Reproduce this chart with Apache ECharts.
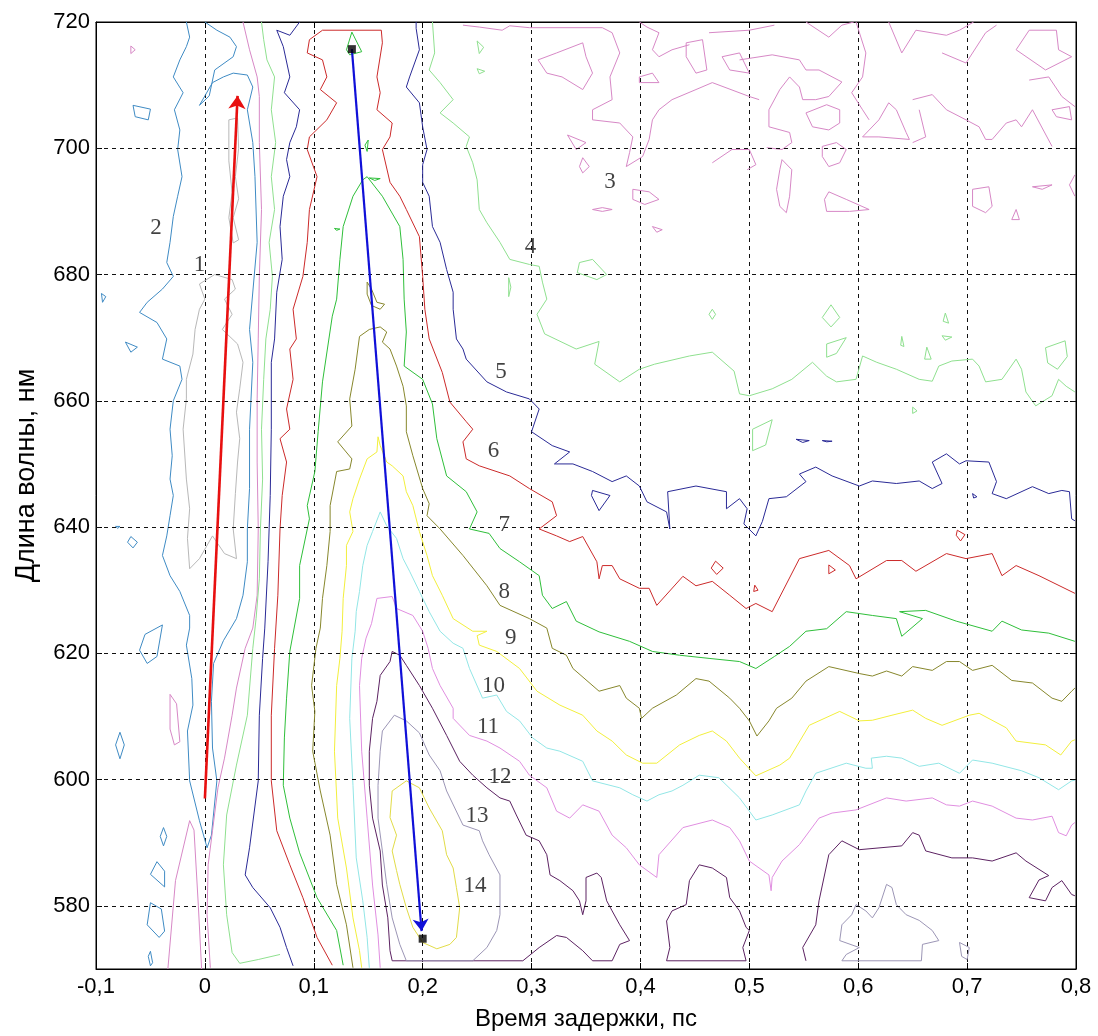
<!DOCTYPE html>
<html><head><meta charset="utf-8">
<script src="https://cdn.jsdelivr.net/npm/echarts/dist/echarts.min.js"></script>
<style>html,body{margin:0;padding:0;background:#fff}#c{width:1098px;height:1036px}</style>
</head><body><div id="c"></div>
<script>
// ---------- axes ----------
const xTicks = [-0.1,0,0.1,0.2,0.3,0.4,0.5,0.6,0.7,0.8];
const yTicks = [580,600,620,640,660,680,700,720];

// ---------- contour level 1 (gray) ----------
const lvl1Main = [[-0.005,678.5],[0.009,680],[0.025,679.2],[0.028,677.7],[0.018,676.1],[0.025,673.7],[0.016,671.3],[0.030,669],[0.035,666.1],[0.032,661.9],[0.029,658.2],[0.032,654],[0.030,650.3],[0.028,645.3],[0.026,639.7],[0.029,635],[0.018,635.8],[0.007,638.6],[-0.005,635],[-0.014,633.4],[-0.016,638.2],[-0.014,642.9],[-0.017,647.6],[-0.020,655.5],[-0.017,660.3],[-0.017,663.4],[-0.011,667.4],[-0.009,671.3],[-0.005,674.5],[0,676.1]];
const lvl1Strip = [[0.022,704.5],[0.030,704.8],[0.031,700],[0.028,695.5],[0.031,692],[0.026,689],[0.031,685.5],[0.026,685],[0.022,689],[0.025,693],[0.022,698]];

// ---------- level 2 (steel blue) ----------
const lvl2Main = [[-0.017,720],[-0.014,717.6],[-0.017,716.1],[-0.023,714],[-0.029,711.3],[-0.020,708.8],[-0.028,706.1],[-0.023,702.9],[-0.025,699.8],[-0.021,695.5],[-0.025,692.4],[-0.029,689.2],[-0.032,685.1],[-0.035,681.9],[-0.029,679.7],[-0.039,677.7],[-0.053,675.6],[-0.060,674.0],[-0.044,672.4],[-0.035,669.8],[-0.039,666.6],[-0.023,665.5],[-0.021,663.4],[-0.029,660],[-0.032,655.5],[-0.030,651.3],[-0.032,647.6],[-0.029,645],[-0.032,641.8],[-0.035,638.6],[-0.039,635.5],[-0.032,632.3],[-0.023,629.8],[-0.014,626],[-0.014,624],[-0.017,621.3],[-0.012,616],[-0.011,611.8],[-0.016,607.7],[-0.014,599.8],[-0.005,593.5],[0.002,589.2],[0.006,591.2],[0.011,599.8],[0.007,605],[0.006,612.4],[0.008,618.4],[0.017,622],[0.029,625.5],[0.035,629.2],[0.039,634.5],[0.039,639.7],[0.041,646.1],[0.041,655.5],[0.044,666.1],[0.041,671.3],[0.048,685.1],[0.046,695.5],[0.044,700.9],[0.039,706.1],[0.044,709.7],[0.039,711.6],[0.026,711.9],[0.017,711.3],[0.007,710.4],[-0.005,706.8],[0.004,708.3],[0.009,712.4],[0.026,714.5],[0.029,716.1],[0.023,717.6],[0.011,718.7],[0,720]];
const lvl2Islands = [
 [[-0.066,706.8],[-0.050,706.2],[-0.052,704.5],[-0.064,705]],
 [[-0.095,677],[-0.091,676.5],[-0.094,675.6]],
 [[-0.073,669.3],[-0.062,668.5],[-0.068,667.7]],
 [[-0.082,640.1],[-0.078,640.1],[-0.080,639.8]],
 [[-0.068,638.5],[-0.062,637.6],[-0.066,636.7],[-0.071,637.6]],
 [[-0.055,623],[-0.039,624.5],[-0.044,619.5],[-0.053,618.4],[-0.060,620.5]],
 [[-0.078,607.5],[-0.074,605.5],[-0.078,603.3],[-0.082,605.5]],
 [[-0.038,592.4],[-0.035,591],[-0.038,589.5],[-0.041,591]],
 [[-0.044,587],[-0.037,585.5],[-0.037,583],[-0.050,585]],
 [[-0.050,580.5],[-0.040,579.5],[-0.037,576],[-0.042,575],[-0.053,577]],
 [[-0.050,572.8],[-0.048,571],[-0.050,570.5],[-0.052,572]]
];

// ---------- level 3 (pink) ----------
const lvl3Left = [[0.035,720],[0.041,715.6],[0.048,711.3],[0.050,708.2],[0.050,700.9],[0.052,690.3],[0.050,679.7],[0.049,669.8],[0.048,660.3],[0.048,650.3],[0.049,639.7],[0.048,629.2],[0.044,624],[0.037,620.8],[0.029,614.5],[0.025,610.2],[0.018,603.4],[0.012,598.7],[0.007,591.9],[0.003,586.5],[0.002,578.6],[0.005,570.2]];
const lvl3Open = [
 [[0.237,719.5],[0.252,719.2],[0.273,718.7],[0.280,719.4],[0.298,719.1],[0.365,719.1],[0.374,718.3],[0.381,715.1],[0.372,711.3],[0.374,707.7],[0.356,706.1],[0.356,704.5],[0.381,704],[0.393,701.8],[0.390,699.3],[0.387,697.1],[0.402,698.7],[0.408,701.4],[0.411,704.5],[0.417,706.1],[0.429,707.7],[0.451,709.3],[0.466,710.4],[0.500,708.2],[0.509,707.7]],
 [[0.491,714],[0.521,714.8],[0.546,714],[0.552,712.4],[0.564,712.4],[0.585,710.5],[0.573,708.2],[0.561,707.7],[0.549,707.7],[0.546,709.7],[0.537,711.3],[0.528,709.3],[0.518,706.1],[0.518,703.4],[0.537,702.5],[0.539,700.9],[0.530,699.8],[0.516,700.1]],
 [[0.552,720],[0.573,717.6],[0.585,719.5],[0.596,720]],
 [[0.628,720],[0.640,715.1],[0.653,718.7],[0.681,717.9],[0.693,718.7],[0.706,720]],
 [[0.598,720],[0.607,715.1],[0.604,711.3],[0.594,708.8],[0.604,706.1],[0.610,704.5]],
 [[0.650,707.7],[0.668,708.5],[0.681,706.1],[0.699,704.5],[0.711,703.4],[0.717,701.4],[0.723,701.4],[0.736,704],[0.745,704.5],[0.750,703.4],[0.760,706.1],[0.778,700.3]],
 [[0.656,706.1],[0.662,701.8],[0.650,700.9]],
 [[0.677,715.1],[0.699,713.5],[0.717,718.3],[0.727,719.5]],
 [[0.757,710.8],[0.775,711.3],[0.787,708.2],[0.799,706.6]],
 [[0.799,695.8],[0.794,694.2],[0.799,692.4]],
 [[0.399,720],[0.406,719.2],[0.417,718.3],[0.411,715.6],[0.417,714.5],[0.429,715.6],[0.445,716.4]],
 [[0.463,718.3],[0.500,718.7],[0.523,719.5]],
 [[0.466,697.7],[0.484,699.8],[0.500,699.8],[0.506,697.4],[0.498,696.6]],
 [[-0.034,570],[-0.027,584],[-0.014,593.5],[-0.010,592],[-0.006,580],[-0.003,570]]
];
const lvl3Islands = [
 [[0.552,705.6],[0.571,706.9],[0.583,706.1],[0.583,704],[0.573,702.9],[0.558,703.4]],
 [[0.567,700.3],[0.580,700.9],[0.589,699.8],[0.583,697.7],[0.573,697.1],[0.567,698.7]],
 [[0.530,698.2],[0.539,696.6],[0.537,692.4],[0.534,689.8],[0.528,690.8],[0.525,693.5],[0.528,696.6]],
 [[0.573,693.1],[0.589,691.9],[0.610,690.3],[0.592,690],[0.571,690],[0.569,691.9]],
 [[0.604,701.8],[0.619,704.5],[0.628,707.2],[0.635,706.1],[0.644,702.5],[0.647,701.4],[0.619,701.8]],
 [[0.745,715.6],[0.757,718.7],[0.782,718.7],[0.784,715.6],[0.796,714.5],[0.772,712.4]],
 [[0.778,706.1],[0.794,706.6],[0.796,704.5],[0.782,705]],
 [[0.705,693.5],[0.720,693.9],[0.723,690.8],[0.717,689.8],[0.705,690.8]],
 [[0.741,688.7],[0.745,690.3],[0.748,688.7]],
 [[0.760,693.9],[0.778,694.2],[0.769,693.5]],
 [[0.306,714],[0.323,715.1],[0.347,716.7],[0.350,714.5],[0.356,711.9],[0.347,709.3],[0.328,711.3],[0.314,711.9]],
 [[0.333,702.1],[0.350,700.9],[0.341,699.8]],
 [[0.347,698.5],[0.353,697.1],[0.347,696.1],[0.344,697.1]],
 [[0.356,690.3],[0.365,690.6],[0.374,690.3],[0.365,690]],
 [[0.393,693.5],[0.408,693.1],[0.417,691.9],[0.404,691.1],[0.393,691.9]],
 [[0.411,687.6],[0.420,687.1],[0.415,686.7]],
 [[0.399,711.3],[0.411,711.9],[0.417,710.4],[0.399,710.4]],
 [[0.442,716.7],[0.457,717.2],[0.461,712.4],[0.451,711.9],[0.442,714.5]],
 [[0.475,714.5],[0.491,715.1],[0.500,711.9],[0.482,712.4]],
 [[-0.032,613.5],[-0.026,612],[-0.023,606],[-0.028,605.5],[-0.032,608]],
 [[-0.068,716.2],[-0.064,715.6],[-0.068,715]]
];

// ---------- level 4 (light green) ----------
const lvl4Left = [[0.052,720],[0.054,717.2],[0.057,714],[0.064,711.3],[0.061,706.1],[0.065,700.9],[0.061,695.5],[0.064,690.3],[0.059,685.1],[0.062,679.7],[0.060,674.5],[0.056,669.8],[0.054,663.4],[0.052,655.5],[0.053,647.6],[0.051,639.7],[0.050,631.8],[0.047,625.5],[0.044,620.8],[0.039,610.2],[0.029,602.3],[0.020,594.4],[0.017,586.5],[0.020,578.6],[0.025,572.6],[0.032,570.9],[0.049,571.5],[0.069,572.3]];
const lvl4Right = [[0.209,720],[0.211,715.1],[0.206,712.4],[0.216,710.4],[0.228,707.7],[0.216,705.6],[0.228,704],[0.243,701.8],[0.240,700.3],[0.246,697.7],[0.250,695],[0.252,690.3],[0.259,688.2],[0.271,685.1],[0.280,682.4],[0.298,681.6],[0.307,681.3],[0.310,678.8],[0.314,676.1],[0.305,673.7],[0.312,670.6],[0.341,668.2],[0.362,669.4],[0.358,665.8],[0.381,663],[0.399,665],[0.413,665.8],[0.445,667.1],[0.466,667.7],[0.486,664.7],[0.491,661.1],[0.500,660.8],[0.521,661.9],[0.539,663.4],[0.558,666.1],[0.571,663.9],[0.580,663],[0.598,663.4],[0.604,667.1],[0.617,666.1],[0.635,665],[0.656,663.4],[0.668,663.1],[0.674,665.5],[0.686,666.3],[0.705,666.6],[0.711,665.5],[0.717,663],[0.732,663.4],[0.745,666.6],[0.750,665],[0.754,661.4],[0.763,659.2],[0.778,660.8],[0.784,663.4],[0.791,662.3],[0.799,661.4]];
const lvl4Islands = [
 [[0.344,681.9],[0.356,682.4],[0.369,680],[0.360,679.2],[0.342,680.3]],
 [[0.279,679.5],[0.281,678],[0.279,676.5]],
 [[0.571,669],[0.589,670],[0.580,667.5],[0.571,666.9]],
 [[0.772,668.4],[0.790,669.5],[0.792,667],[0.783,665],[0.774,666]],
 [[0.663,668.5],[0.667,666.6],[0.661,666.6]],
 [[0.640,670.2],[0.642,668.6],[0.639,668.8]],
 [[0.503,655.5],[0.521,657],[0.515,653],[0.503,652.1]],
 [[0.650,659],[0.654,658.4],[0.650,658]],
 [[0.575,675.2],[0.583,673.2],[0.575,671.7],[0.567,673.2]],
 [[0.680,673.9],[0.683,672.3],[0.678,672.6]],
 [[0.677,670.3],[0.686,670.1],[0.680,669.6]],
 [[0.466,674.5],[0.469,673.7],[0.466,672.9],[0.463,673.7]],
 [[0.250,717],[0.256,716],[0.252,715]],
 [[0.250,712.6],[0.257,712.2],[0.252,711.8]]
];

// ---------- level 5 (navy) ----------
const lvl5Left = [[0.087,720],[0.078,717.9],[0.066,718.7],[0.072,716.1],[0.078,711.3],[0.073,708.8],[0.087,706.1],[0.084,703.4],[0.078,700.9],[0.075,698.2],[0.078,695.5],[0.072,692.4],[0.069,687.6],[0.071,682.4],[0.066,677.2],[0.064,669.8],[0.061,666.1],[0.061,655.5],[0.060,645],[0.058,634.5],[0.055,624],[0.053,619.2],[0.050,610.2],[0.049,599.8],[0.041,589.2],[0.037,584.9],[0.044,582.9],[0.060,579.7],[0.069,576.6],[0.075,573.4],[0.081,570.5]];
const lvl5Right = [[0.194,720],[0.194,719],[0.197,715.6],[0.188,711.3],[0.185,709.7],[0.197,707.2],[0.200,703.4],[0.204,699.8],[0.200,697.4],[0.200,694.6],[0.206,692.4],[0.209,687.6],[0.216,685.1],[0.222,680.8],[0.228,677.2],[0.228,674.5],[0.231,669.8],[0.237,668.2],[0.240,666.6],[0.259,663],[0.277,661.4],[0.298,660.3],[0.307,658.7],[0.300,655.1],[0.319,652.9],[0.335,651.9],[0.321,650],[0.338,650],[0.356,648.8],[0.374,647.2],[0.387,648.1],[0.399,646.5],[0.406,644],[0.424,642.4],[0.427,639.7],[0.425,645.6],[0.451,646.5],[0.479,645.6],[0.479,642.9],[0.491,644.5],[0.498,642.9],[0.495,640.5],[0.506,638.6],[0.512,640.9],[0.518,644.5],[0.534,644.8],[0.552,647.2],[0.546,648.4],[0.561,649.5],[0.576,648.1],[0.601,646.5],[0.613,647.3],[0.635,646.9],[0.656,647.3],[0.668,646.1],[0.677,646.9],[0.668,650.3],[0.681,651.6],[0.693,650],[0.699,650.5],[0.720,650.3],[0.727,647.2],[0.723,645.3],[0.736,644.5],[0.760,646.4],[0.775,645.3],[0.787,645.8],[0.794,645.6],[0.796,641.3],[0.799,641]];
const lvl5Islands = [
 [[0.356,645.8],[0.372,645],[0.362,642.6],[0.355,645]],
 [[0.543,653.9],[0.555,653.7],[0.549,653.4]],
 [[0.567,653.7],[0.576,653.6],[0.571,653.5]],
 [[0.705,645.3],[0.709,644.8],[0.706,644.6]]
];

// ---------- level 6 (red) ----------
const lvl6Main = [[0.117,570.6],[0.103,575],[0.090,581.3],[0.078,586.5],[0.066,591.9],[0.061,599.8],[0.061,610.2],[0.064,620.8],[0.067,629.2],[0.069,639.7],[0.071,645],[0.075,650.3],[0.069,654],[0.078,655.5],[0.075,658.7],[0.081,663.4],[0.078,668.2],[0.084,669.8],[0.081,674.5],[0.090,679.7],[0.094,685.1],[0.096,690.3],[0.103,695.5],[0.094,699.8],[0.096,701.8],[0.112,704.5],[0.121,707.2],[0.106,709.3],[0.112,711.3],[0.108,714],[0.094,715.1],[0.096,717.2],[0.108,718.7],[0.162,718.7],[0.163,716.7],[0.158,711.3],[0.161,708.8],[0.158,706.1],[0.172,704],[0.170,701.8],[0.163,699.8],[0.170,694.6],[0.179,692.4],[0.185,690.3],[0.197,686],[0.200,679.7],[0.202,674.5],[0.206,669.8],[0.218,664.5],[0.225,659.8],[0.240,656.7],[0.246,655.5],[0.237,653.5],[0.240,650.8],[0.252,649.7],[0.280,648.1],[0.298,646.1],[0.319,644],[0.323,641.8],[0.307,639.7],[0.323,638.6],[0.335,637.7],[0.347,638.5],[0.360,634.5],[0.362,631.8],[0.365,633.9],[0.374,633.9],[0.381,631.8],[0.399,630.3],[0.408,630.3],[0.415,627.6],[0.439,632.2],[0.451,630.7],[0.466,631.4],[0.482,629.2],[0.497,627.1],[0.506,627.9],[0.521,626.6],[0.546,635],[0.573,636.3],[0.592,633.9],[0.598,631.8],[0.626,634.7],[0.640,634.7],[0.653,633],[0.681,635.8],[0.699,635],[0.723,635.8],[0.732,632.3],[0.745,633.9],[0.766,632.3],[0.799,629.5]];
const lvl6Islands = [
 [[0.469,634.6],[0.476,633.5],[0.470,632.5],[0.465,633.5]],
 [[0.573,634],[0.579,633.2],[0.573,632.6]],
 [[0.505,630.8],[0.508,630],[0.504,629.8]],
 [[0.691,639.5],[0.698,638.8],[0.694,637.8],[0.690,638.7]]
];

// ---------- level 7 (green) ----------
const lvl7Main = [[0.127,570.6],[0.121,576.1],[0.103,581.3],[0.087,588.4],[0.078,593.9],[0.072,599.1],[0.073,606.6],[0.075,612.9],[0.078,620.3],[0.087,628.7],[0.087,633.9],[0.096,641.3],[0.094,643.4],[0.101,648.8],[0.104,655.1],[0.108,663],[0.117,673.4],[0.121,676.1],[0.124,682.4],[0.127,687.6],[0.136,692.4],[0.145,695],[0.149,695.5],[0.163,692.4],[0.179,687.6],[0.182,682.4],[0.183,676.1],[0.185,670.9],[0.183,665.5],[0.200,663.4],[0.209,659.5],[0.213,654],[0.222,648.1],[0.240,645.6],[0.250,642.4],[0.243,639.7],[0.261,639],[0.271,636.6],[0.289,634.5],[0.307,632.3],[0.310,629.2],[0.319,627.1],[0.332,628.2],[0.341,625.1],[0.362,623.4],[0.390,621.9],[0.411,620.3],[0.436,619.7],[0.463,619.2],[0.491,618.7],[0.506,617.6],[0.523,619.5],[0.537,621.1],[0.552,623.5],[0.571,623.9],[0.589,626.6],[0.613,626],[0.635,625.5],[0.640,622.7],[0.659,625.5],[0.638,626.6],[0.662,626.8],[0.690,625.1],[0.723,623.5],[0.732,625.1],[0.750,623.7],[0.775,623.2],[0.799,621.9]];
const lvl7Islands = [
 [[0.135,718.4],[0.144,715.3],[0.133,714.8],[0.130,715.6]],
 [[0.147,700.5],[0.150,701.3],[0.149,699.5]],
 [[0.151,695.3],[0.161,695.2],[0.156,694.9]],
 [[0.119,687.3],[0.124,687.2],[0.121,687]]
];

// ---------- level 8 (olive) ----------
const lvl8Main = [[0.136,570.2],[0.130,577],[0.121,583.4],[0.115,591.2],[0.106,598.2],[0.099,604.5],[0.101,610.8],[0.098,614.9],[0.102,620.8],[0.106,624],[0.108,628.7],[0.112,633.9],[0.115,639.3],[0.115,643.4],[0.121,648.8],[0.133,649.2],[0.135,650.8],[0.122,653.5],[0.135,656],[0.133,660.3],[0.138,665],[0.142,670.2],[0.151,671.3],[0.161,671.7],[0.167,670.9],[0.163,669.3],[0.170,668.2],[0.176,665.5],[0.182,662.3],[0.185,659.2],[0.185,655.1],[0.191,651.3],[0.200,646.1],[0.206,643.7],[0.204,641.8],[0.216,639.7],[0.237,635.5],[0.259,630.7],[0.271,627.6],[0.298,625.5],[0.314,624],[0.319,620.8],[0.332,619.7],[0.338,617.6],[0.362,614],[0.381,614.9],[0.387,612.9],[0.399,611.3],[0.401,609.7],[0.411,611.3],[0.433,613.4],[0.451,616],[0.463,615.6],[0.482,612.9],[0.491,611.3],[0.500,609.3],[0.507,606.9],[0.518,609.3],[0.525,611.3],[0.539,612.9],[0.552,615.6],[0.573,617.9],[0.601,616.8],[0.613,616.4],[0.626,617.2],[0.640,616.4],[0.650,617.9],[0.668,617.3],[0.681,618.7],[0.693,618.7],[0.705,617.3],[0.723,618.1],[0.741,615.7],[0.760,615.3],[0.778,612.9],[0.787,612.4],[0.796,614],[0.799,614.5]];
const lvl8Island = [[0.149,678.8],[0.153,677.7],[0.158,675.6],[0.165,675.3],[0.161,674.5],[0.153,675.1],[0.149,676.9]];

// ---------- level 9 (yellow) ----------
const lvl9Main = [[0.144,570.2],[0.142,572.9],[0.136,578.1],[0.130,586],[0.122,593.9],[0.119,604.5],[0.121,614.9],[0.124,619.2],[0.126,623.5],[0.127,628.7],[0.130,633.9],[0.130,637.1],[0.136,639.3],[0.133,642.4],[0.136,644.5],[0.142,647.6],[0.149,650.8],[0.158,651.9],[0.159,654.3],[0.161,652.9],[0.167,650.3],[0.172,649.7],[0.182,648.1],[0.185,645.6],[0.191,643.4],[0.197,639.3],[0.204,635.5],[0.209,632.3],[0.218,629.2],[0.228,625.5],[0.246,623.5],[0.259,623.5],[0.250,622.8],[0.252,621.3],[0.268,620.3],[0.289,617.6],[0.305,614],[0.326,611.8],[0.347,610.2],[0.360,607.7],[0.374,606.1],[0.387,603.9],[0.402,602.6],[0.415,602.6],[0.436,605.5],[0.454,607],[0.466,607.7],[0.479,606.1],[0.491,603.4],[0.506,600.6],[0.528,602.3],[0.537,603.4],[0.555,608.6],[0.583,610.8],[0.601,609.3],[0.613,609.4],[0.631,610.2],[0.650,611],[0.662,609.7],[0.677,608.6],[0.702,610.2],[0.711,610.5],[0.736,608.2],[0.745,606.1],[0.772,605.5],[0.786,603.9],[0.796,606.1],[0.799,606.3]];

// ---------- level 10 (light cyan) ----------
const lvl10Main = [[0.151,570.2],[0.149,575],[0.145,580.8],[0.139,587.6],[0.136,599.1],[0.133,609.7],[0.135,619.2],[0.138,623.5],[0.139,626.6],[0.142,629.8],[0.145,633.9],[0.149,637.1],[0.154,639.3],[0.161,642.4],[0.167,640.2],[0.176,638.2],[0.182,635],[0.188,633],[0.197,629.8],[0.206,626.6],[0.216,623.5],[0.228,621.6],[0.237,620.8],[0.243,617.6],[0.255,612.9],[0.268,613.4],[0.277,610.8],[0.289,609.3],[0.301,606.6],[0.314,605],[0.326,604.5],[0.347,602.9],[0.356,599.8],[0.381,598.7],[0.393,597.6],[0.406,596.6],[0.417,597.6],[0.429,598.2],[0.439,599.1],[0.454,600.7],[0.472,600.3],[0.491,597.1],[0.506,593.6],[0.521,594.4],[0.546,596],[0.552,598.2],[0.561,601],[0.589,602.6],[0.607,601.8],[0.613,601.8],[0.612,603.4],[0.626,603.7],[0.640,603.4],[0.656,602.1],[0.674,602.6],[0.693,601],[0.705,603.1],[0.723,602.6],[0.750,601.4],[0.766,600.3],[0.784,598.4],[0.796,599.8],[0.799,599.9]];

// ---------- level 11 (violet pink) ----------
const lvl11Main = [[0.161,570.2],[0.159,575.4],[0.154,583.3],[0.149,593.9],[0.144,604.5],[0.142,614.9],[0.144,619.2],[0.148,622.4],[0.153,624.7],[0.158,628.7],[0.172,629],[0.176,627.1],[0.191,626],[0.200,623.5],[0.205,620.8],[0.209,617.6],[0.216,614.9],[0.228,611.3],[0.228,609.7],[0.243,607],[0.259,606.1],[0.271,605],[0.289,602.9],[0.298,600.7],[0.314,598.7],[0.323,595],[0.335,593.9],[0.347,596],[0.362,595],[0.374,591.2],[0.387,589.2],[0.399,586.5],[0.415,584.5],[0.417,588.1],[0.439,592.4],[0.466,593.6],[0.482,592.4],[0.491,590.3],[0.500,587.1],[0.518,584.9],[0.520,582.4],[0.521,584.5],[0.530,587.1],[0.546,589.7],[0.564,593.9],[0.576,594.7],[0.598,595.2],[0.626,597.1],[0.644,596.6],[0.668,597.1],[0.681,596],[0.693,595.8],[0.705,596.6],[0.723,595.8],[0.745,593.9],[0.760,593.6],[0.778,594.2],[0.784,591.6],[0.791,591.1],[0.796,592.8],[0.799,593.2]];

// ---------- level 12 (dark purple) ----------
const lvl12Main = [[0.172,571.3],[0.170,572.9],[0.168,578.1],[0.163,583.3],[0.161,588.7],[0.154,593.9],[0.151,599.1],[0.151,604.5],[0.154,609.7],[0.158,612.4],[0.161,616.5],[0.170,618.7],[0.172,620.3],[0.179,619.7],[0.185,618.1],[0.197,614.9],[0.209,611.3],[0.222,607],[0.234,602.9],[0.246,600.7],[0.259,598.7],[0.271,597.1],[0.280,596.6],[0.286,594.4],[0.295,591.2],[0.307,590.3],[0.314,588.1],[0.317,584.9],[0.326,584],[0.338,582.4],[0.344,580.8],[0.347,578.6],[0.350,580.8],[0.350,584.5],[0.360,585.2],[0.364,584.5],[0.369,580.8],[0.374,579.2],[0.381,577],[0.390,574.5],[0.381,573.9],[0.374,571.3],[0.356,571.3],[0.347,572.9],[0.332,575],[0.323,575.3],[0.307,573.4],[0.292,571.3]];
const lvl12Hump = [[0.424,571.3],[0.427,573.4],[0.424,577.6],[0.429,579.2],[0.442,580.2],[0.445,584],[0.454,586.5],[0.466,586],[0.479,584.5],[0.482,581.3],[0.491,579.2],[0.497,576.6],[0.500,576.1],[0.494,573.4],[0.497,571.3]];
const lvl12Right = [[0.552,571.3],[0.549,573.4],[0.561,577],[0.564,580.8],[0.573,588.1],[0.585,590.3],[0.601,588.9],[0.640,589.5],[0.650,591.6],[0.656,591.2],[0.662,588.7],[0.686,587.6],[0.705,587.6],[0.723,587.1],[0.745,588.4],[0.754,587.1],[0.775,584.8],[0.766,584.1],[0.757,581.3],[0.772,580.8],[0.778,582.9],[0.787,584],[0.796,581.8],[0.799,581.6]];

// ---------- level 13 (grey lilac) ----------
const lvl13Main = [[0.185,571.3],[0.179,573.9],[0.172,578.1],[0.167,583.4],[0.163,588.7],[0.159,593.9],[0.159,599.1],[0.161,604.5],[0.163,607.7],[0.174,610.2],[0.185,609.3],[0.197,607.4],[0.206,603.9],[0.216,601.4],[0.222,598.2],[0.237,592.8],[0.252,591.9],[0.255,590.3],[0.261,588.1],[0.271,584.9],[0.271,578.6],[0.268,576.1],[0.259,573.4],[0.246,571.3]];
const lvl13Right = [[0.585,571.3],[0.589,572.3],[0.601,573.4],[0.583,574.5],[0.585,577],[0.594,578.6],[0.598,580.2],[0.607,579.2],[0.613,578.1],[0.619,579.7],[0.626,583.4],[0.631,582.9],[0.635,580.2],[0.644,578.6],[0.656,577.7],[0.668,576.1],[0.674,574.5],[0.659,573.9],[0.658,571.3]];
const lvl13Small = [[0.693,574.2],[0.702,573.4],[0.700,571.5],[0.695,572]];

// ---------- level 14 (yellow) ----------
const lvl14Main = [[0.185,599.8],[0.172,598.2],[0.170,594],[0.176,591.2],[0.172,588.7],[0.176,585.6],[0.179,583.4],[0.185,579.7],[0.191,576.6],[0.200,574.2],[0.213,573.2],[0.225,573.9],[0.231,575],[0.234,579.7],[0.231,582.9],[0.228,586],[0.222,588.1],[0.218,591.9],[0.206,595.5],[0.197,598.7]];

// ---------- contour labels ----------
const labelText = ['1','2','3','4','5','6','7','8','9','10','11','12','13','14'];
const labelX = [-0.005,-0.045,0.372,0.299,0.272,0.265,0.275,0.275,0.281,0.265,0.260,0.271,0.250,0.248];
const labelY = [681.5,687.3,694.7,684.3,664.5,652.1,640.4,629.8,622.5,614.8,608.3,600.4,594.3,583.2];

// ---------- arrows and markers ----------
const redArrowX = [0, 0.030];
const redArrowY = [597, 708.3];
const blueArrowX = [0.135, 0.199];
const blueArrowY = [715.7, 576.0];
const markerX = [0.135, 0.200];
const markerY = [715.7, 574.8];

// ---------- colours ----------
const COL = {
  l1:'#b8b8b8', l2:'#3f8bc4', l3:'#d788c6', l4:'#8fe08f', l5:'#2a2a96', l6:'#cc2a2a',
  l7:'#2fbf3a', l8:'#87872c', l9:'#f2ef3c', l10:'#92e6e6', l11:'#e08ee0', l12:'#5c2262',
  l13:'#9c96b6', l14:'#e2dc48'
};

function poly(data, color, closed, w) {
  const d = closed ? data.concat([data[0]]) : data;
  return { type:'line', data:d, symbol:'none', showSymbol:false, silent:true, animation:false,
    lineStyle:{ color:color, width:w||1 }, z:3, clip:true };
}

const series = [];
series.push(poly(lvl1Main, COL.l1, true));
series.push(poly(lvl1Strip, COL.l1, true));
series.push(poly(lvl2Main, COL.l2, false));
lvl2Islands.forEach(a => series.push(poly(a, COL.l2, true)));
series.push(poly(lvl3Left, COL.l3, false));
lvl3Open.forEach(a => series.push(poly(a, COL.l3, false)));
lvl3Islands.forEach(a => series.push(poly(a, COL.l3, true)));
series.push(poly(lvl4Left, COL.l4, false));
series.push(poly(lvl4Right, COL.l4, false));
lvl4Islands.forEach(a => series.push(poly(a, COL.l4, true)));
series.push(poly(lvl5Left, COL.l5, false));
series.push(poly(lvl5Right, COL.l5, false));
lvl5Islands.forEach(a => series.push(poly(a, COL.l5, true)));
series.push(poly(lvl6Main, COL.l6, false));
lvl6Islands.forEach(a => series.push(poly(a, COL.l6, true)));
series.push(poly(lvl7Main, COL.l7, false));
lvl7Islands.forEach(a => series.push(poly(a, COL.l7, true)));
series.push(poly(lvl8Main, COL.l8, false));
series.push(poly(lvl8Island, COL.l8, true));
series.push(poly(lvl9Main, COL.l9, false));
series.push(poly(lvl10Main, COL.l10, false));
series.push(poly(lvl11Main, COL.l11, false));
series.push(poly(lvl12Main, COL.l12, true));
series.push(poly(lvl12Hump, COL.l12, true));
series.push(poly(lvl12Right, COL.l12, false));
series.push(poly(lvl13Main, COL.l13, true));
series.push(poly(lvl13Right, COL.l13, true));
series.push(poly(lvl13Small, COL.l13, true));
series.push(poly(lvl14Main, COL.l14, true));

// horizontal dashed grid lines
series.push({ type:'line', data:[], silent:true, animation:false,
  markLine:{ silent:true, symbol:['none','none'], animation:false, label:{show:false},
    lineStyle:{ color:'#111', type:[4,4], width:1 },
    data: yTicks.filter(v => v < 720).map(v => ({ yAxis:v })) }, z:1 });

// arrows
series.push({ type:'lines', coordinateSystem:'cartesian2d', silent:true, animation:false, z:6,
  symbol:['none','arrow'], symbolSize:[0,13],
  lineStyle:{ color:'#e81010', width:2.6, opacity:1 },
  data:[{ coords: redArrowX.map((x,i)=>[x, redArrowY[i]]) }] });
series.push({ type:'lines', coordinateSystem:'cartesian2d', silent:true, animation:false, z:6,
  symbol:['none','arrow'], symbolSize:[0,12],
  lineStyle:{ color:'#1010d8', width:2.2, opacity:1 },
  data:[{ coords: blueArrowX.map((x,i)=>[x, blueArrowY[i]]) }] });
series.push({ type:'scatter', silent:true, animation:false, z:7, symbol:'rect', symbolSize:8,
  itemStyle:{ color:'#000' }, data: markerX.map((x,i)=>[x, markerY[i]]) });

// contour labels
series.push({ type:'scatter', silent:true, animation:false, z:8, symbolSize:1,
  itemStyle:{ color:'rgba(0,0,0,0)' },
  label:{ show:true, position:'inside', formatter:p => p.name, color:'#111',
    fontFamily:'Liberation Serif, DejaVu Serif, serif', fontSize:23 },
  data: labelText.map((t,i)=>({ name:t, value:[labelX[i], labelY[i]] })) });

const fmtX = v => { const r = Math.round(v*10)/10; return String(r).replace('.', ','); };

const option = {
  animation:false,
  backgroundColor:'#fff',
  grid:{ left:96, right:22, top:22, bottom:64, show:true, borderColor:'#000', borderWidth:1, backgroundColor:'transparent' },
  xAxis:[{
    type:'value', min:-0.1, max:0.8, interval:0.1,
    axisLine:{ show:true, onZero:false, lineStyle:{ color:'#000', width:1 } },
    axisTick:{ show:true, inside:true, length:6, lineStyle:{ color:'#000' } },
    axisLabel:{ formatter:fmtX, color:'#000', fontSize:22, fontFamily:'Liberation Sans, Arial, sans-serif', margin:7 },
    splitLine:{ show:true, lineStyle:{ color:'#111', type:[4,4], width:1 } },
    name:'Время задержки, пс', nameLocation:'middle', nameGap:38,
    nameTextStyle:{ color:'#000', fontSize:24, fontFamily:'Liberation Sans, Arial, sans-serif' }
  },{
    type:'value', position:'top', min:-0.1, max:0.8, interval:0.1,
    axisLine:{ show:true, onZero:false, lineStyle:{ color:'#000' } },
    axisTick:{ show:true, inside:true, length:6, lineStyle:{ color:'#000' } },
    axisLabel:{ show:false }, splitLine:{ show:false }
  }],
  yAxis:[{
    type:'value', min:570, max:720,
    axisLine:{ show:true, onZero:false, lineStyle:{ color:'#000', width:1 } },
    axisTick:{ show:true, inside:true, length:6, customValues:yTicks, lineStyle:{ color:'#000' } },
    axisLabel:{ customValues:yTicks, color:'#000', fontSize:22, fontFamily:'Liberation Sans, Arial, sans-serif', margin:6 },
    splitLine:{ show:false },
    name:'Длина волны, нм', nameLocation:'middle', nameGap:56, nameRotate:90,
    nameTextStyle:{ color:'#000', fontSize:27, fontFamily:'Liberation Sans, Arial, sans-serif', padding:[0,0,0,40] }
  },{
    type:'value', position:'right', min:570, max:720,
    axisLine:{ show:true, onZero:false, lineStyle:{ color:'#000' } },
    axisTick:{ show:true, inside:true, length:6, customValues:yTicks, lineStyle:{ color:'#000' } },
    axisLabel:{ show:false }, splitLine:{ show:false }
  }],
  series: series
};

const chart = echarts.init(document.getElementById('c'), null, { renderer:'canvas' });
chart.setOption(option);
</script>
</body></html>
